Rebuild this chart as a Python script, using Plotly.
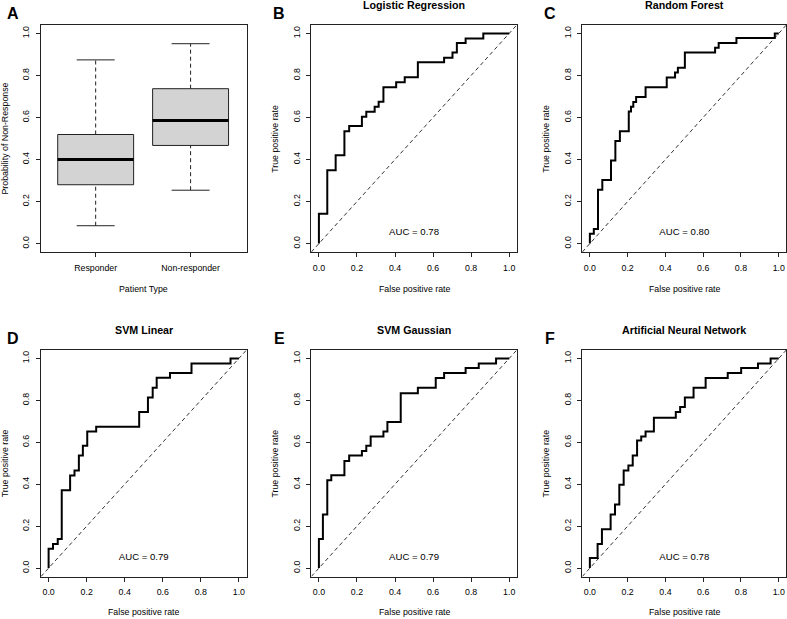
import plotly.graph_objects as go

# ---- data ----
GROUPS = ["Responder", "Non-responder"]
BOX_LOWER = [0.085, 0.254]
BOX_Q1 = [0.280, 0.467]
BOX_MEDIAN = [0.400, 0.586]
BOX_Q3 = [0.519, 0.737]
BOX_UPPER = [0.874, 0.951]

MODELS = ["Logistic Regression", "Random Forest", "SVM Linear",
          "SVM Gaussian", "Artificial Neural Network"]
AUC = [0.78, 0.80, 0.79, 0.79, 0.78]

# ROC corner points: at each fpr the curve rises to tpr (drawn as "hv" steps)
LR_FPR = [0, 0, 0.044, 0.088, 0.134, 0.159, 0.226, 0.249, 0.293, 0.314, 0.339,
          0.406, 0.451, 0.520, 0.658, 0.702, 0.725, 0.771, 0.864, 1.0]
LR_TPR = [0, 0.142, 0.349, 0.420, 0.535, 0.559, 0.604, 0.627, 0.651, 0.675, 0.744,
          0.768, 0.791, 0.863, 0.884, 0.909, 0.954, 0.976, 1.0, 1.0]

RF_FPR = [0, 0, 0.021, 0.043, 0.066, 0.112, 0.135, 0.159, 0.206, 0.218, 0.230,
          0.245, 0.295, 0.407, 0.451, 0.466, 0.503, 0.663, 0.682, 0.776, 0.979, 1.0]
RF_TPR = [0, 0.047, 0.070, 0.256, 0.302, 0.395, 0.488, 0.535, 0.628, 0.651, 0.674,
          0.698, 0.744, 0.790, 0.814, 0.837, 0.909, 0.932, 0.954, 0.978, 1.0, 1.0]

SVML_FPR = [0, 0, 0.023, 0.048, 0.069, 0.113, 0.136, 0.159, 0.180, 0.203, 0.250,
            0.476, 0.522, 0.547, 0.568, 0.638, 0.751, 0.956, 1.0]
SVML_TPR = [0, 0.092, 0.115, 0.139, 0.371, 0.441, 0.465, 0.537, 0.583, 0.651, 0.674,
            0.744, 0.814, 0.860, 0.908, 0.930, 0.976, 1.0, 1.0]

SVMG_FPR = [0, 0, 0.021, 0.044, 0.065, 0.134, 0.159, 0.226, 0.249, 0.272, 0.339,
            0.360, 0.430, 0.520, 0.614, 0.658, 0.771, 0.840, 0.931, 1.0]
SVMG_TPR = [0, 0.139, 0.256, 0.419, 0.443, 0.511, 0.537, 0.559, 0.583, 0.628, 0.651,
            0.697, 0.834, 0.860, 0.906, 0.930, 0.954, 0.976, 1.0, 1.0]

ANN_FPR = [0, 0, 0.041, 0.064, 0.110, 0.133, 0.156, 0.179, 0.204, 0.227, 0.250,
           0.272, 0.295, 0.339, 0.455, 0.478, 0.503, 0.549, 0.613, 0.730, 0.801,
           0.890, 0.957, 1.0]
ANN_TPR = [0, 0.048, 0.115, 0.185, 0.256, 0.303, 0.398, 0.465, 0.489, 0.537, 0.608,
           0.628, 0.651, 0.717, 0.744, 0.768, 0.814, 0.860, 0.906, 0.930, 0.954,
           0.976, 1.0, 1.0]

ROC_FPR = [LR_FPR, RF_FPR, SVML_FPR, SVMG_FPR, ANN_FPR]
ROC_TPR = [LR_TPR, RF_TPR, SVML_TPR, SVMG_TPR, ANN_TPR]

TICK_VALS = [0, 0.2, 0.4, 0.6, 0.8, 1.0]
TICK_LABELS = ["0.0", "0.2", "0.4", "0.6", "0.8", "1.0"]
PANEL_LETTERS = ["A", "B", "C", "D", "E", "F"]

# ---- layout geometry (pixels) ----
W, H = 787, 619
COLS = [(41, 246.5), (311.3, 516.8), (582.3, 786.3)]
ROWS = [(25, 252), (350, 576.5)]
ROC_RANGE = [-0.04, 1.04]
FONT = "Liberation Sans, Arial, sans-serif"
INK = "#222222"


def px(x, y):
    return x / W, 1 - y / H


fig = go.Figure()
annotations = []
layout = {}


def axis_style(**kw):
    d = dict(showline=True, mirror=True, linecolor=INK, linewidth=1,
             ticks="outside", ticklen=4, tickwidth=1, tickcolor=INK,
             showgrid=False, zeroline=False, fixedrange=True,
             tickfont=dict(family=FONT, size=8.8, color="black"),
             ticklabelstandoff=3)
    d.update(kw)
    return d


def text(x, y, s, size=8.8, bold=False, angle=0):
    xp, yp = px(x, y)
    annotations.append(dict(
        x=xp, y=yp, xref="paper", yref="paper", text=f"<b>{s}</b>" if bold else s,
        showarrow=False, textangle=angle, xanchor="center", yanchor="middle",
        font=dict(family=FONT, size=size, color="black")))


for i in range(6):
    r, c = divmod(i, 3)
    x0, x1 = COLS[c]
    y0, y1 = ROWS[r]
    n = "" if i == 0 else str(i + 1)
    xa, ya = f"x{n}", f"y{n}"
    xd = [x0 / W, x1 / W]
    yd = [1 - y1 / H, 1 - y0 / H]
    cx = (x0 + x1) / 2
    cy = (y0 + y1) / 2

    layout[f"yaxis{n}"] = axis_style(domain=yd, anchor=xa, range=ROC_RANGE,
                                     tickvals=TICK_VALS, ticktext=TICK_LABELS,
                                     tickangle=-90)
    text(x0 - 36, cy, "Probability of Non-Response" if i == 0 else "True positive rate",
         angle=-90)
    text(x0 - 28 if c == 0 else x0 - 32, y0 - 12, PANEL_LETTERS[i], size=16, bold=True)

    if i == 0:
        layout["xaxis"] = axis_style(domain=xd, anchor=ya, range=[0.424, 2.589],
                                     tickvals=[1, 2], ticktext=GROUPS)
        text(cx, y1 + 37, "Patient Type")
        for g in range(len(GROUPS)):
            p = g + 1
            fig.add_trace(go.Scatter(
                x=[p - 0.4, p + 0.4, p + 0.4, p - 0.4, p - 0.4],
                y=[BOX_Q1[g], BOX_Q1[g], BOX_Q3[g], BOX_Q3[g], BOX_Q1[g]],
                mode="lines", fill="toself", fillcolor="#D3D3D3",
                line=dict(color=INK, width=1), xaxis=xa, yaxis=ya))
            fig.add_trace(go.Scatter(
                x=[p - 0.4, p + 0.4], y=[BOX_MEDIAN[g], BOX_MEDIAN[g]],
                mode="lines", line=dict(color="black", width=3), xaxis=xa, yaxis=ya))
            for lo, hi in [(BOX_Q3[g], BOX_UPPER[g]), (BOX_LOWER[g], BOX_Q1[g])]:
                fig.add_trace(go.Scatter(
                    x=[p, p], y=[lo, hi], mode="lines",
                    line=dict(color=INK, width=1, dash="4px,3px"), xaxis=xa, yaxis=ya))
            for v in (BOX_UPPER[g], BOX_LOWER[g]):
                fig.add_trace(go.Scatter(
                    x=[p - 0.2, p + 0.2], y=[v, v], mode="lines",
                    line=dict(color=INK, width=1), xaxis=xa, yaxis=ya))
        continue

    m = i - 1
    layout[f"xaxis{n}"] = axis_style(domain=xd, anchor=ya, range=ROC_RANGE,
                                     tickvals=TICK_VALS, ticktext=TICK_LABELS)
    text(cx, y1 + 37 if r == 0 else y1 + 35, "False positive rate")
    text(cx, y0 - 20, MODELS[m], size=10.7, bold=True)

    fig.add_trace(go.Scatter(
        x=ROC_RANGE, y=ROC_RANGE, mode="lines",
        line=dict(color="#333333", width=1, dash="4px,3px"), xaxis=xa, yaxis=ya))
    fig.add_trace(go.Scatter(
        x=ROC_FPR[m], y=ROC_TPR[m], mode="lines", line_shape="hv",
        line=dict(color="black", width=2), xaxis=xa, yaxis=ya))
    fig.add_trace(go.Scatter(
        x=[0.5], y=[0.05], mode="text", text=[f"AUC = {AUC[m]:.2f}"],
        textfont=dict(family=FONT, size=9.6, color="black"), xaxis=xa, yaxis=ya))

fig.update_layout(
    width=W, height=H, autosize=False,
    margin=dict(l=0, r=0, t=0, b=0),
    paper_bgcolor="white", plot_bgcolor="white",
    showlegend=False, annotations=annotations,
    font=dict(family=FONT, color="black"),
    **layout,
)

# drop the browser's default 8px body margin so the figure sits at (0, 0)
fig.write_html("out.html", config={"displayModeBar": False},
               post_script="document.body.style.margin='0';"
                           "document.body.style.overflow='hidden';")
